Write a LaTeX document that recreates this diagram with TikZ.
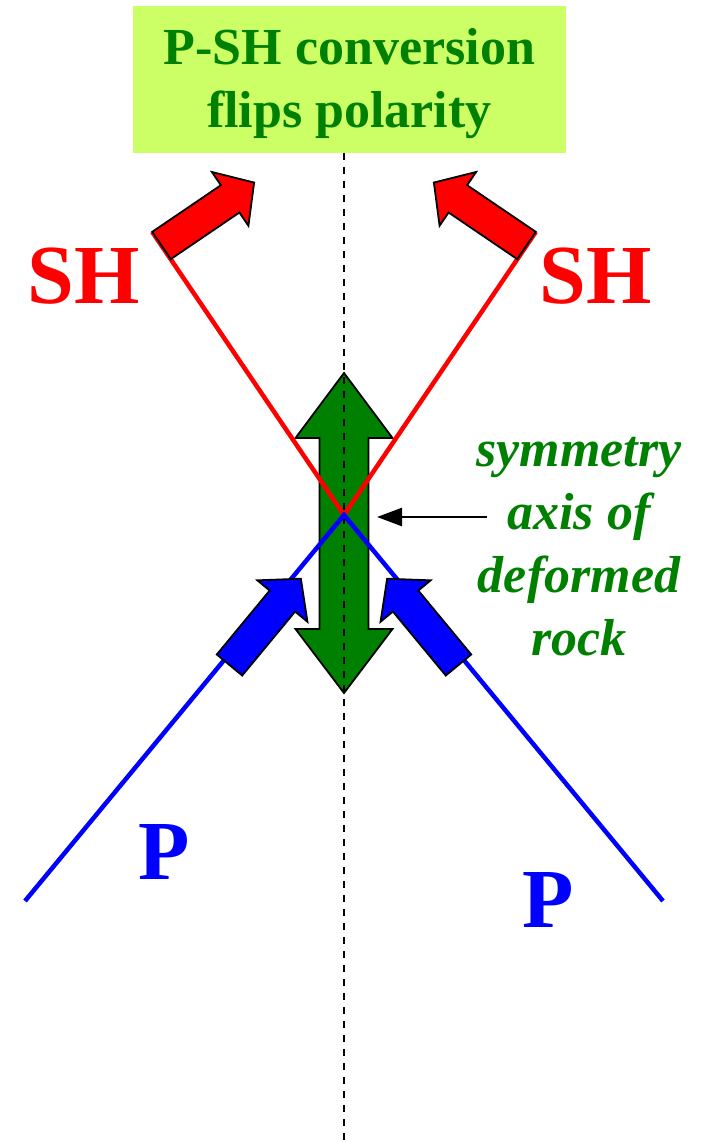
\documentclass[tikz,border=0pt]{standalone}
\usepackage{fontspec}
\setmainfont{Liberation Serif}
\usetikzlibrary{arrows.meta}
\definecolor{HeadLime}{RGB}{204,255,102}
\definecolor{AxisGreen}{RGB}{0,128,0}

\begin{document}
\begin{tikzpicture}[x=1pt,y=-1pt, every node/.style={inner sep=0pt},
    wavelabel/.style={font=\fontsize{84}{84}\selectfont\bfseries, anchor=base},
    greentext/.style={AxisGreen, align=center, anchor=base, font=\fontsize{52}{63}\selectfont\bfseries}]
  \useasboundingbox (0,0) rectangle (704,1142);
  % title box
  \fill[HeadLime] (133,6) rectangle (566,153);
  \node[greentext] (title) at (349.5,128) {P-SH conversion\\flips polarity};

  % double arrow along the axis
  \draw[fill=AxisGreen, line width=1.8pt] (344,373) -- (392.5,438) -- (368.5,438) -- (368.5,629)
    -- (392.5,629) -- (344,693) -- (295.5,629) -- (319.5,629) -- (319.5,438) -- (295.5,438) -- cycle;
  \draw[line width=2pt, dash pattern=on 7pt off 7pt] (344,153) -- (344,1142);

  % rays
  \coordinate (X) at (344,515);
  \coordinate (shL) at (152.2,231.9);
  \coordinate (shR) at (535.8,231.9);
  \coordinate (pL) at (25,901);
  \coordinate (pR) at (663,901);
  \draw[red, line width=4.5pt] (shL) -- (X) -- (shR);
  \draw[blue, line width=4.5pt] (pL) -- (X) -- (pR);

  % polarity arrows
  \foreach \bx/\by/\ang/\col in {161.5/245.5/34.2/red, 526.5/245.5/145.8/red,
                                 229.5/665/50.4/blue, 458.5/665/129.6/blue} {
    \begin{scope}[shift={(\bx,\by)}, rotate=\ang]
      \draw[fill=\col, line width=1.8pt] (0,-16.5) -- (83,-16.5) -- (83,-32.5) -- (112,0)
        -- (83,32.5) -- (83,16.5) -- (0,16.5) -- cycle;
    \end{scope}
  }

  \node[wavelabel, red] (shLlab) at (83.5,303) {SH};
  \node[wavelabel, red] (shRlab) at (595.5,303) {SH};
  \node[wavelabel, blue] (pLlab) at (164,879) {P};
  \node[wavelabel, blue] (pRlab) at (548,927) {P};

  % axis label
  \node[greentext, font=\fontsize{52}{63}\selectfont\bfseries\itshape] (sym) at (579,655)
    {symmetry\\axis of\\deformed\\rock};
  \coordinate (axtail) at (487,517);
  \coordinate (axtip) at (377,517);
  \draw[-{Triangle[length=25pt,width=18pt]}, line width=2.5pt] (axtail) -- (axtip);
\end{tikzpicture}
\end{document}
